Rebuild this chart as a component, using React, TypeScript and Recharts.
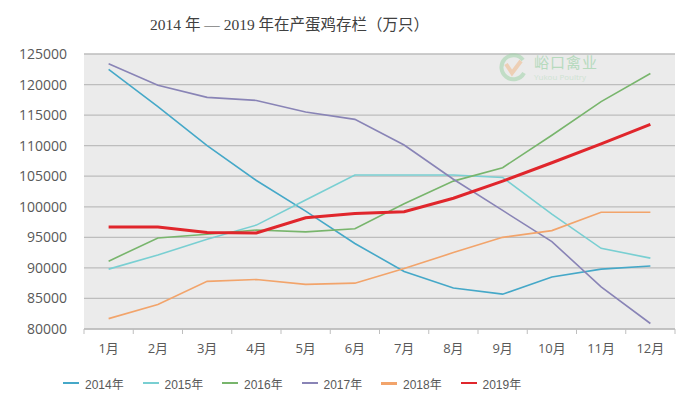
import { LineChart, Line, XAxis, YAxis, CartesianGrid } from 'recharts';

const months = ['1月', '2月', '3月', '4月', '5月', '6月', '7月', '8月', '9月', '10月', '11月', '12月'];

const y2014 = [122500, 116400, 110000, 104300, 99300, 94000, 89400, 86700, 85700, 88500, 89800, 90300];
const y2015 = [89800, 92100, 94700, 97000, 101100, 105200, 105200, 105200, 104800, 98800, 93200, 91600];
const y2016 = [91100, 94900, 95500, 96200, 95900, 96400, 100500, 104200, 106400, 111700, 117200, 121800];
const y2017 = [123400, 119900, 117900, 117400, 115500, 114300, 110100, 104500, 99400, 94300, 86900, 80900];
const y2018 = [81700, 84000, 87800, 88100, 87300, 87500, 89900, 92500, 95000, 96100, 99100, 99100];
const y2019 = [96700, 96700, 95800, 95700, 98200, 98900, 99200, 101400, 104200, 107200, 110300, 113500];

const yTicks = [80000, 85000, 90000, 95000, 100000, 105000, 110000, 115000, 120000, 125000];

const series = [
  { key: 's2014', name: '2014年', values: y2014, color: '#45a8c8', width: 1.6, legendWidth: 2 },
  { key: 's2015', name: '2015年', values: y2015, color: '#79cfd2', width: 1.6, legendWidth: 2 },
  { key: 's2016', name: '2016年', values: y2016, color: '#78b56c', width: 1.6, legendWidth: 2 },
  { key: 's2017', name: '2017年', values: y2017, color: '#8984b6', width: 1.6, legendWidth: 2 },
  { key: 's2018', name: '2018年', values: y2018, color: '#f2a46b', width: 1.6, legendWidth: 3 },
  { key: 's2019', name: '2019年', values: y2019, color: '#e0262c', width: 3, legendWidth: 2 },
];

const data = months.map((m, i) => {
  const row: Record<string, string | number> = { month: m };
  series.forEach((s) => {
    row[s.key] = s.values[i];
  });
  return row;
});

const W = 682;
const H = 399;
const LEFT = 84;
const RIGHT = 7;
const BAND = (W - LEFT - RIGHT) / months.length;

const MonthTick = (props: any) => {
  const { x, y, payload, index } = props;
  const last = index === months.length - 1;
  return (
    <g>
      <line x1={x - BAND / 2} x2={x - BAND / 2} y1={y} y2={y + 5} stroke="#bfbfbf" />
      {last && <line x1={x + BAND / 2} x2={x + BAND / 2} y1={y} y2={y + 5} stroke="#bfbfbf" />}
      <text x={x} y={y + 24} textAnchor="middle" fill="#595959" fontSize={13} fontFamily="'Open Sans', 'Noto Sans CJK SC', sans-serif">
        {payload.value}
      </text>
    </g>
  );
};

const Watermark = () => (
  <div style={{ position: 'absolute', left: 497, top: 51, display: 'flex', alignItems: 'center', opacity: 0.55 }}>
    <svg width={32} height={32} viewBox="0 0 32 32">
      <path d="M26 9 A12 12 0 1 0 27 22" fill="none" stroke="#9fd3a8" strokeWidth={4} />
      <path d="M9 13 L15 22 L24 10" fill="none" stroke="#efb98a" strokeWidth={4} />
    </svg>
    <div style={{ marginLeft: 5, lineHeight: 1 }}>
      <div style={{ color: '#8ccd99', fontSize: 15, fontFamily: "'Noto Sans CJK SC', sans-serif", letterSpacing: 1 }}>峪口禽业</div>
      <div style={{ color: '#b7dcbe', fontSize: 8, fontFamily: "'Open Sans', sans-serif", marginTop: 4 }}>Yukou Poultry</div>
    </div>
  </div>
);

const ChartLegend = () => (
  <div style={{ position: 'absolute', left: 63, top: 375, display: 'flex', fontFamily: "'Liberation Sans', 'Noto Sans CJK SC', sans-serif", fontSize: 12, color: '#595959' }}>
    {series.map((s) => (
      <div key={s.key} style={{ display: 'flex', alignItems: 'center', width: 79.5, height: 16 }}>
        <span style={{ display: 'inline-block', width: 16, height: s.legendWidth, background: s.color, marginRight: 6 }} />
        <span>{s.name}</span>
      </div>
    ))}
  </div>
);

export default function App() {
  return (
    <div style={{ position: 'absolute', left: 0, top: 0, width: W, height: H, background: '#fff' }}>
      <div
        style={{
          position: 'absolute',
          left: 150,
          top: 12,
          whiteSpace: 'nowrap',
          fontSize: 15.5,
          color: '#404040',
          fontFamily: "'Liberation Serif', 'Noto Sans CJK SC', serif",
        }}
      >
        2014 年 — 2019 年在产蛋鸡存栏（万只）
      </div>
      <div style={{ position: 'absolute', left: 0, top: 0 }}>
        <LineChart width={W} height={H} data={data} margin={{ top: 54, right: RIGHT, left: 0, bottom: 0 }}>
          <CartesianGrid vertical={false} fill="#ebebeb" stroke="#bdbdbd" strokeWidth={1.3} />
          <XAxis
            dataKey="month"
            scale="band"
            height={70}
            tickSize={0}
            tickMargin={0}
            interval={0}
            axisLine={{ stroke: '#bfbfbf', strokeWidth: 1.3 }}
            tick={<MonthTick />}
          />
          <YAxis
            width={LEFT}
            domain={[80000, 125000]}
            ticks={yTicks}
            interval={0}
            axisLine={false}
            tickLine={false}
            tickSize={0}
            tickMargin={17}
            tick={{ fill: '#595959', fontSize: 14, fontFamily: "'Open Sans', sans-serif" }}
          />
          {series.map((s) => (
            <Line
              key={s.key}
              type="linear"
              dataKey={s.key}
              name={s.name}
              stroke={s.color}
              strokeWidth={s.width}
              dot={false}
              activeDot={false}
              isAnimationActive={false}
            />
          ))}
        </LineChart>
      </div>
      <Watermark />
      <ChartLegend />
    </div>
  );
}
